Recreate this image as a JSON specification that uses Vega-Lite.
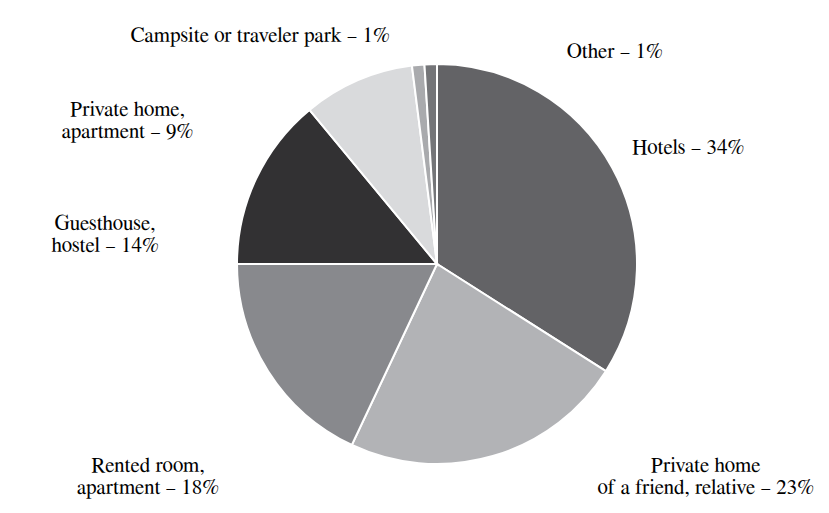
{
  "$schema": "https://vega.github.io/schema/vega-lite/v6.json",
  "width": 784,
  "height": 498,
  "autosize": {"type": "none"},
  "padding": {"left": 45, "top": 15, "right": 0, "bottom": 0},
  "background": "white",
  "config": {"view": {"stroke": null}, "font": "FreeSerif"},
  "data": {
    "values": [
      {"place": "Hotels", "label": "Hotels – 34%", "share": 34},
      {"place": "Private home of a friend, relative", "label": "Private home\nof a friend, relative – 23%", "share": 23},
      {"place": "Rented room, apartment", "label": "Rented room,\napartment – 18%", "share": 18},
      {"place": "Guesthouse, hostel", "label": "Guesthouse,\nhostel – 14%", "share": 14},
      {"place": "Private home, apartment", "label": "Private home,\napartment – 9%", "share": 9},
      {"place": "Campsite or traveler park", "label": "Campsite or traveler park – 1%", "share": 1},
      {"place": "Other", "label": "Other – 1%", "share": 1}
    ]
  },
  "transform": [
    {"stack": "share", "groupby": [], "sort": [{"field": "share", "order": "descending"}, {"field": "place", "order": "ascending"}], "as": ["s0", "s1"]},
    {"calculate": "(datum.s0 + datum.s1) / 2", "as": "mid"}
  ],
  "layer": [
    {
      "mark": {"type": "arc", "outerRadius": 200, "stroke": "white", "strokeWidth": 2},
      "encoding": {
        "theta": {"field": "s0", "type": "quantitative", "stack": null, "scale": {"domain": [0, 100]}},
        "theta2": {"field": "s1"},
        "color": {
          "field": "place", "type": "nominal", "legend": null,
          "scale": {
            "domain": ["Hotels", "Private home of a friend, relative", "Rented room, apartment", "Guesthouse, hostel", "Private home, apartment", "Campsite or traveler park", "Other"],
            "range": ["#636366", "#b2b3b6", "#88898d", "#323133", "#d9dadc", "#a9aaad", "#747578"]
          }
        }
      }
    },
    {
      "transform": [{"filter": "datum.place === 'Hotels'"}],
      "mark": {"type": "text", "radius": 200, "dx": 76, "dy": -20, "font": "FreeSerif", "fontSize": 21, "lineBreak": "\n", "lineHeight": 22, "color": "black"},
      "encoding": {"theta": {"field": "mid", "type": "quantitative", "stack": null}, "text": {"field": "label"}}
    },
    {
      "transform": [{"filter": "datum.place === 'Private home of a friend, relative'"}],
      "mark": {"type": "text", "radius": 200, "dx": 213, "dy": 10, "font": "FreeSerif", "fontSize": 21, "lineBreak": "\n", "lineHeight": 22, "color": "black"},
      "encoding": {"theta": {"field": "mid", "type": "quantitative", "stack": null}, "text": {"field": "label"}}
    },
    {
      "transform": [{"filter": "datum.place === 'Rented room, apartment'"}],
      "mark": {"type": "text", "radius": 200, "dx": -120, "dy": 95, "font": "FreeSerif", "fontSize": 21, "lineBreak": "\n", "lineHeight": 22, "color": "black"},
      "encoding": {"theta": {"field": "mid", "type": "quantitative", "stack": null}, "text": {"field": "label"}}
    },
    {
      "transform": [{"filter": "datum.place === 'Guesthouse, hostel'"}],
      "mark": {"type": "text", "radius": 200, "dx": -151, "dy": 45, "font": "FreeSerif", "fontSize": 21, "lineBreak": "\n", "lineHeight": 22, "color": "black"},
      "encoding": {"theta": {"field": "mid", "type": "quantitative", "stack": null}, "text": {"field": "label"}}
    },
    {
      "transform": [{"filter": "datum.place === 'Private home, apartment'"}],
      "mark": {"type": "text", "radius": 200, "dx": -230, "dy": 30, "font": "FreeSerif", "fontSize": 21, "lineBreak": "\n", "lineHeight": 22, "color": "black"},
      "encoding": {"theta": {"field": "mid", "type": "quantitative", "stack": null}, "text": {"field": "label"}}
    },
    {
      "transform": [{"filter": "datum.place === 'Campsite or traveler park'"}],
      "mark": {"type": "text", "radius": 200, "dx": -158, "dy": -29, "font": "FreeSerif", "fontSize": 21, "lineBreak": "\n", "lineHeight": 22, "color": "black"},
      "encoding": {"theta": {"field": "mid", "type": "quantitative", "stack": null}, "text": {"field": "label"}}
    },
    {
      "transform": [{"filter": "datum.place === 'Other'"}],
      "mark": {"type": "text", "radius": 200, "dx": 184, "dy": -12, "font": "FreeSerif", "fontSize": 21, "lineBreak": "\n", "lineHeight": 22, "color": "black"},
      "encoding": {"theta": {"field": "mid", "type": "quantitative", "stack": null}, "text": {"field": "label"}}
    }
  ]
}
